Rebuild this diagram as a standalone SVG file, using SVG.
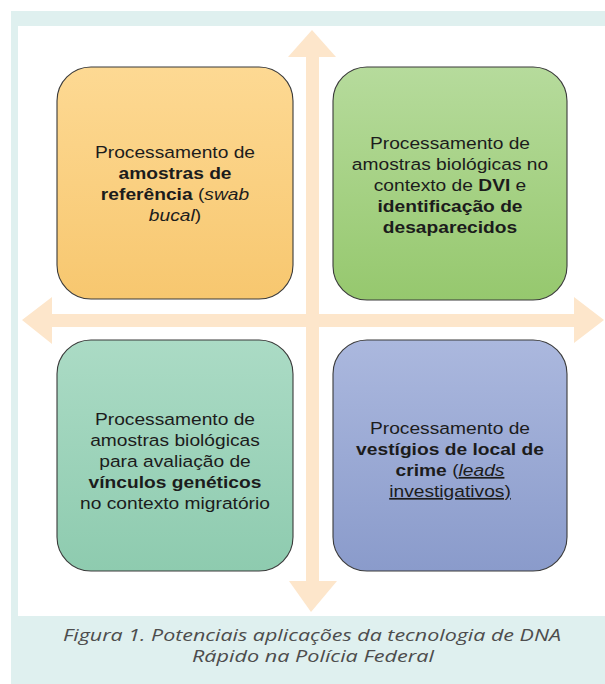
<svg xmlns="http://www.w3.org/2000/svg" width="605" height="684" viewBox="0 0 605 684">
<style>
.box{stroke:#3a3a3a;stroke-width:1.1}
.t{font-family:"Liberation Sans",Arial,sans-serif;font-size:17px;fill:#1c1c1c;text-anchor:middle}
.b{font-weight:bold}
.i{font-style:italic}
.u{text-decoration:underline}
.cap{font-family:"Open Sans","Noto Sans",sans-serif;font-style:italic;font-size:15.5px;fill:#4d4d4d;text-anchor:middle}
.arrow{fill:#fde6cb}
</style>
<defs>
<linearGradient id="gO" x1="0" y1="0" x2="0" y2="1"><stop offset="0" stop-color="#fdd993"/><stop offset="1" stop-color="#f7c76f"/></linearGradient>
<linearGradient id="gG" x1="0" y1="0" x2="0" y2="1"><stop offset="0" stop-color="#b6db9c"/><stop offset="1" stop-color="#96c86e"/></linearGradient>
<linearGradient id="gT" x1="0" y1="0" x2="0" y2="1"><stop offset="0" stop-color="#abdbc5"/><stop offset="1" stop-color="#8ecbaf"/></linearGradient>
<linearGradient id="gB" x1="0" y1="0" x2="0" y2="1"><stop offset="0" stop-color="#abb8de"/><stop offset="1" stop-color="#8a9bcb"/></linearGradient>
</defs>
<rect x="0" y="0" width="605" height="684" fill="#ffffff"/>
<rect x="11" y="11" width="594" height="673" fill="#dff0ef"/>
<rect x="18" y="26" width="587" height="590" fill="#ffffff"/>
<g id="connectors">
<path class="arrow" d="M312,30 L336,57 L319,57 L319,581 L337,581 L311,612 L289,581 L306,581 L306,57 L288,57 Z"/>
<path class="arrow" d="M22,320 L52,297 L52,314 L574,314 L574,297 L604,320 L574,343 L574,327 L52,327 L52,344 Z"/>
</g>
<g id="node-referencia">
<rect class="box" x="57" y="67" width="236" height="232" rx="34" fill="url(#gO)"/>
<g transform="translate(175,0) scale(1.13,1)">
<text class="t" x="0" y="158">Processamento de</text>
<text class="t b" x="0" y="179">amostras de</text>
<text class="t" x="0" y="200"><tspan class="b">referência</tspan> (<tspan class="i">swab</tspan></text>
<text class="t" x="0" y="221"><tspan class="i">bucal</tspan>)</text>
</g>
</g>
<g id="node-dvi">
<rect class="box" x="333" y="67" width="234" height="233" rx="34" fill="url(#gG)"/>
<g transform="translate(450,0) scale(1.13,1)">
<text class="t" x="0" y="149">Processamento de</text>
<text class="t" x="0" y="170">amostras biológicas no</text>
<text class="t" x="0" y="191">contexto de <tspan class="b">DVI</tspan> e</text>
<text class="t b" x="0" y="212">identificação de</text>
<text class="t b" x="0" y="233">desaparecidos</text>
</g>
</g>
<g id="node-migratorio">
<rect class="box" x="57" y="340" width="236" height="231" rx="34" fill="url(#gT)"/>
<g transform="translate(175,0) scale(1.13,1)">
<text class="t" x="0" y="425">Processamento de</text>
<text class="t" x="0" y="446">amostras biológicas</text>
<text class="t" x="0" y="467">para avaliação de</text>
<text class="t b" x="0" y="488">vínculos genéticos</text>
<text class="t" x="0" y="509">no contexto migratório</text>
</g>
</g>
<g id="node-crime">
<rect class="box" x="333" y="340" width="234" height="231" rx="34" fill="url(#gB)"/>
<g transform="translate(450,0) scale(1.13,1)">
<text class="t" x="0" y="434">Processamento de</text>
<text class="t b" x="0" y="455">vestígios de local de</text>
<text class="t" x="0" y="476"><tspan class="b">crime</tspan> (<tspan class="i u">leads</tspan></text>
<text class="t u" x="0" y="497">investigativos)</text>
</g>
</g>
<g id="caption">
<text class="cap" x="312" y="641" textLength="498" lengthAdjust="spacingAndGlyphs">Figura 1. Potenciais aplicações da tecnologia de DNA</text>
<text class="cap" x="313" y="662" textLength="242" lengthAdjust="spacingAndGlyphs">Rápido na Polícia Federal</text>
</g>
</svg>
